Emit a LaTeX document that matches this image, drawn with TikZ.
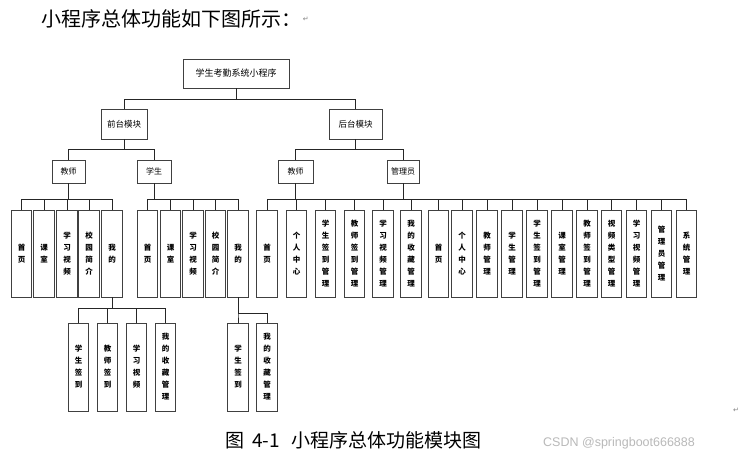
\documentclass[tikz,border=0pt]{standalone}
\usepackage{fontspec}
\newfontfamily\cjk{Noto Sans CJK SC}
\newfontfamily\wmfont{Liberation Sans}
\newfontfamily\symfont{DejaVu Sans}
\begin{document}
\begin{tikzpicture}[x=1pt,y=-1pt,
  box/.style={draw=black!75, line width=0.9pt, fill=white, inner sep=0pt, align=center},
  topbox/.style={box, font=\cjk\fontsize{9}{11}\selectfont},
  midbox/.style={box, font=\cjk\fontsize{8.5}{10}\selectfont, minimum height=30pt},
  rolebox/.style={box, font=\cjk\fontsize{8}{10}\selectfont, minimum height=23pt},
  leaf/.style={box, font=\cjk\bfseries\fontsize{7.5}{12}\selectfont, minimum width=20.5pt, minimum height=87pt},
  conn/.style={draw=black!85, line width=0.8pt},
  retmark/.style={font=\symfont\fontsize{7}{7}\selectfont, text=gray}]
\useasboundingbox (0,0) rectangle (752,460);
\fill[white] (0,0) rectangle (752,460);

% title and caption
\node[anchor=west, inner sep=0pt, font=\cjk\fontsize{20}{20}\selectfont] (title) at (41,19) {小程序总体功能如下图所示：};
\node[retmark, anchor=west, inner sep=0pt] (ret1) at (title.east) {\,↵};
\node[anchor=west, inner sep=0pt, font=\cjk\fontsize{19}{19}\selectfont] (caption) at (225,440) {图\hspace{8pt}4-1\hspace{12pt}小程序总体功能模块图};
\node[anchor=west, inner sep=0pt, font=\wmfont\fontsize{12.5}{12.5}\selectfont, text=gray!55] (wm) at (543,443) {CSDN @springboot666888};
\node[retmark, inner sep=0pt] (ret2) at (736,410) {↵};

% bar levels
\coordinate (by1) at (0,99);
\coordinate (by2) at (0,149);
\coordinate (by3) at (0,199);
\coordinate (by4) at (0,308);
\coordinate (by5) at (0,313);

% upper tree
\node[topbox, minimum width=106pt, minimum height=29pt] (root) at (236,73.5) {学生考勤系统小程序};
\node[midbox, minimum width=46pt] (front) at (124,124) {前台模块};
\node[midbox, minimum width=53pt] (back) at (355.5,124) {后台模块};
\node[rolebox, minimum width=33pt] (ft) at (68.5,171.5) {教师};
\node[rolebox, minimum width=34pt] (fs) at (154,171.5) {学生};
\node[rolebox, minimum width=35pt] (bt) at (295.5,171.5) {教师};
\node[rolebox, minimum width=32pt] (ba) at (403,171.5) {管理员};

% leaves
\foreach \n/\x/\t in {ft1/21.5/首\\页, ft2/44/课\\室, ft3/67/学\\习\\视\\频, ft4/89/校\\园\\简\\介, ft5/112/我\\的,
  fs1/147.5/首\\页, fs2/170.5/课\\室, fs3/193/学\\习\\视\\频, fs4/215.5/校\\园\\简\\介, fs5/238/我\\的,
  bt1/267/首\\页, bt2/296.5/个\\人\\中\\心, bt3/325.5/学\\生\\签\\到\\管\\理, bt4/354.5/教\\师\\签\\到\\管\\理, bt5/383/学\\习\\视\\频\\管\\理, bt6/411/我\\的\\收\\藏\\管\\理,
  ba1/438.5/首\\页, ba2/462/个\\人\\中\\心, ba3/487/教\\师\\管\\理, ba4/512/学\\生\\管\\理, ba5/537/学\\生\\签\\到\\管\\理, ba6/562/课\\室\\管\\理, ba7/587/教\\师\\签\\到\\管\\理, ba8/611.5/视\\频\\类\\型\\管\\理, ba9/636.5/学\\习\\视\\频\\管\\理, ba10/661.5/管\\理\\员\\管\\理, ba11/686.5/系\\统\\管\\理}
  \node[leaf] (\n) at (\x,253.5) {\t};

\foreach \n/\x/\t in {fm1/78.5/学\\生\\签\\到, fm2/107.5/教\\师\\签\\到, fm3/136.5/学\\习\\视\\频, fm4/165.5/我\\的\\收\\藏\\管\\理,
  sm1/238/学\\生\\签\\到, sm2/267/我\\的\\收\\藏\\管\\理}
  \node[leaf, minimum height=88pt] (\n) at (\x,367) {\t};

% connectors
\foreach \c in {front,back}
  \draw[conn] (root.south) -- (root.south |- by1) -| (\c.north);
\foreach \c in {ft,fs}
  \draw[conn] (front.south) -- (front.south |- by2) -| (\c.north);
\foreach \c in {bt,ba}
  \draw[conn] (back.south) -- (back.south |- by2) -| (\c.north);
\foreach \i in {1,...,5}
  \draw[conn] (ft.south) -- (ft.south |- by3) -| (ft\i.north);
\foreach \i in {1,...,5}
  \draw[conn] (fs.south) -- (fs.south |- by3) -| (fs\i.north);
\foreach \i in {1,...,6}
  \draw[conn] (bt.south) -- (bt.south |- by3) -| (bt\i.north);
\foreach \i in {1,...,11}
  \draw[conn] (ba.south) -- (ba.south |- by3) -| (ba\i.north);
\foreach \i in {1,...,4}
  \draw[conn] (ft5.south) -- (ft5.south |- by4) -| (fm\i.north);
\foreach \i in {1,2}
  \draw[conn] (fs5.south) -- (fs5.south |- by5) -| (sm\i.north);
\end{tikzpicture}
\end{document}
